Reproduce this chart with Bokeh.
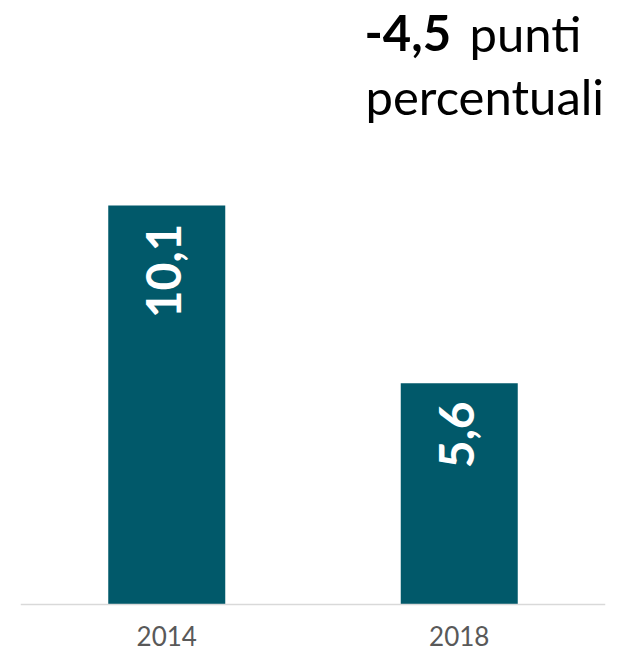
import math
from bokeh.plotting import figure
from bokeh.models import ColumnDataSource, Range1d, Span, Label, LabelSet
from bokeh.core.properties import value
from bokeh.embed import file_html
from bokeh.resources import INLINE

years = ["2014", "2018"]
values = [10.1, 5.6]
value_labels = [f"{v:.1f}".replace(".", ",") for v in values]
delta_text = f"{values[1] - values[0]:.1f}".replace(".", ",")
title_rest = "punti"
title_line2 = "percentuali"

BAR_COLOR = "#01596a"
FONT = "Lato"
PX_PER_UNIT = 39.5
H = 656
BASE = 604

src = ColumnDataSource(dict(year=years, val=values, lab=value_labels, zero=[0, 0]))

p = figure(x_range=years,
           y_range=Range1d(-(H - BASE) / PX_PER_UNIT, BASE / PX_PER_UNIT),
           width=617, height=H,
           output_backend="svg", toolbar_location=None,
           min_border_left=20, min_border_right=12, min_border_top=0, min_border_bottom=0)
p.outline_line_color = None
p.xgrid.visible = False
p.ygrid.visible = False
p.xaxis.visible = False
p.yaxis.visible = False
p.background_fill_color = "white"
p.border_fill_color = "white"

p.vbar(x="year", bottom=0, top="val", width=0.4, source=src, fill_color=BAR_COLOR, line_color=None)

p.add_layout(Span(location=0, dimension="width", line_color="#d9d9d9", line_width=1.5))

p.text(x="year", y="val", text="lab", source=src, angle=math.pi / 2,
       text_align="right", text_baseline="middle", y_offset=18, x_offset=-3,
       text_color="white", text_font=value(FONT), text_font_style="bold",
       text_font_size="48px")

cats = LabelSet(x="year", y="zero", text="year", source=src, y_offset=-41,
                text_align="center", text_baseline="alphabetic", text_color="#595959",
                text_font=value(FONT), text_font_size="26px")
p.add_layout(cats)

y1 = (BASE - 32) / PX_PER_UNIT
y2 = (BASE - 95) / PX_PER_UNIT
p.add_layout(Label(x=344, y=y1, x_units="screen", y_units="data", text=delta_text,
                   text_font=FONT, text_font_style="bold", text_font_size="49px",
                   text_color="black", text_baseline="alphabetic"))
p.add_layout(Label(x=449, y=y1, x_units="screen", y_units="data", text=title_rest,
                   text_font=FONT, text_font_size="49px",
                   text_color="black", text_baseline="alphabetic"))
p.add_layout(Label(x=345, y=y2, x_units="screen", y_units="data", text=title_line2,
                   text_font=FONT, text_font_size="49px",
                   text_color="black", text_baseline="alphabetic"))

open("out.html", "w").write(file_html(p, INLINE))
